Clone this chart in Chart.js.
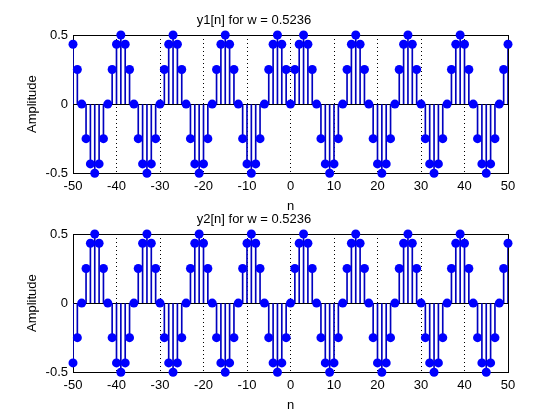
<!DOCTYPE html>
<html><head><meta charset="utf-8">
<script src="https://cdn.jsdelivr.net/npm/chart.js@4"></script>
<style>
html,body{margin:0;padding:0;background:#fff;width:560px;height:420px;overflow:hidden}
canvas{position:absolute;left:0}
#a{top:0}#b{top:199px}
</style>
</head><body>
<canvas id="a" width="560" height="214"></canvas>
<canvas id="b" width="560" height="214"></canvas>
<script>
const n = [-50,-49,-48,-47,-46,-45,-44,-43,-42,-41,-40,-39,-38,-37,-36,-35,-34,-33,-32,-31,
-30,-29,-28,-27,-26,-25,-24,-23,-22,-21,-20,-19,-18,-17,-16,-15,-14,-13,-12,-11,
-10,-9,-8,-7,-6,-5,-4,-3,-2,-1,0,1,2,3,4,5,6,7,8,9,
10,11,12,13,14,15,16,17,18,19,20,21,22,23,24,25,26,27,28,29,
30,31,32,33,34,35,36,37,38,39,40,41,42,43,44,45,46,47,48,49,50];

const y1 = [0.433,0.25,0,-0.25,-0.433,-0.5,-0.433,-0.25,0,0.25,
0.433,0.5,0.433,0.25,0,-0.25,-0.433,-0.5,-0.433,-0.25,
0,0.25,0.433,0.5,0.433,0.25,0,-0.25,-0.433,-0.5,
-0.433,-0.25,0,0.25,0.433,0.5,0.433,0.25,0,-0.25,
-0.433,-0.5,-0.433,-0.25,0,0.25,0.433,0.5,0.433,0.25,
0,0.25,0.433,0.5,0.433,0.25,0,-0.25,-0.433,-0.5,
-0.433,-0.25,0,0.25,0.433,0.5,0.433,0.25,0,-0.25,
-0.433,-0.5,-0.433,-0.25,0,0.25,0.433,0.5,0.433,0.25,
0,-0.25,-0.433,-0.5,-0.433,-0.25,0,0.25,0.433,0.5,
0.433,0.25,0,-0.25,-0.433,-0.5,-0.433,-0.25,0,0.25,
0.433];

const y2 = [-0.433,-0.25,0,0.25,0.433,0.5,0.433,0.25,0,-0.25,
-0.433,-0.5,-0.433,-0.25,0,0.25,0.433,0.5,0.433,0.25,
0,-0.25,-0.433,-0.5,-0.433,-0.25,0,0.25,0.433,0.5,
0.433,0.25,0,-0.25,-0.433,-0.5,-0.433,-0.25,0,0.25,
0.433,0.5,0.433,0.25,0,-0.25,-0.433,-0.5,-0.433,-0.25,
0,0.25,0.433,0.5,0.433,0.25,0,-0.25,-0.433,-0.5,
-0.433,-0.25,0,0.25,0.433,0.5,0.433,0.25,0,-0.25,
-0.433,-0.5,-0.433,-0.25,0,0.25,0.433,0.5,0.433,0.25,
0,-0.25,-0.433,-0.5,-0.433,-0.25,0,0.25,0.433,0.5,
0.433,0.25,0,-0.25,-0.433,-0.5,-0.433,-0.25,0,0.25,
0.433];

const xTicks = [-50,-40,-30,-20,-10,0,10,20,30,40,50];
const yTicks = [-0.5,0,0.5];
const titles = ['y1[n] for w = 0.5236','y2[n] for w = 0.5236'];
const xLabel = 'n';
const yLabel = 'Amplitude';

Chart.defaults.font.family = "'Liberation Sans', Arial, Helvetica, sans-serif";
Chart.defaults.font.size = 13;
Chart.defaults.color = '#000';

const boxPlugin = {
  id: 'box',
  beforeDatasetsDraw(chart) {
    const {ctx, chartArea: a} = chart;
    ctx.save();
    ctx.strokeStyle = '#000';
    ctx.lineWidth = 1;
    const l = Math.round(a.left) + 0.5, t = Math.round(a.top) + 0.5;
    const r = Math.round(a.right) + 0.5, b = Math.round(a.bottom) + 0.5;
    ctx.strokeRect(l, t, r - l, b - t);
    ctx.restore();
  }
};

function makeChart(id, title, ys) {
  const pts = n.map((x, i) => ({x: x, y: ys[i]}));
  return new Chart(document.getElementById(id), {
    type: 'bar',
    data: {
      datasets: [
        {type: 'scatter', data: pts, pointRadius: 4.5, pointHoverRadius: 4.5,
         backgroundColor: '#0000ff', borderColor: '#0000ff', borderWidth: 0, clip: false, order: 0},
        {type: 'bar', data: pts, backgroundColor: '#0000c0', borderWidth: 0,
         barThickness: 1, order: 1}
      ]
    },
    options: {
      responsive: false,
      animation: false,
      events: [],
      layout: {padding: {left: 0, right: 52, top: 0, bottom: 0}},
      plugins: {
        legend: {display: false},
        tooltip: {enabled: false},
        title: {display: true, text: title, color: '#000',
                font: {size: 13, weight: 'normal'}, padding: {top: 13, bottom: 6.4}}
      },
      scales: {
        x: {
          type: 'linear', min: -50, max: 50, offset: false,
          afterBuildTicks: s => { s.ticks = xTicks.map(v => ({value: v})); },
          afterFit: s => { s.height = 40.8; },
          grid: {offset: false, drawTicks: false, lineWidth: 1,
                 color: c => (c.tick && Math.abs(c.tick.value) === 50) ? 'rgba(0,0,0,0)' : '#000'},
          border: {display: false, dash: [1, 3]},
          ticks: {padding: 5, maxRotation: 0, autoSkip: false, color: '#000',
                  callback: v => String(v)},
          title: {display: true, text: xLabel, color: '#000', padding: {top: 0, bottom: 0}}
        },
        y: {
          min: -0.5, max: 0.5,
          afterBuildTicks: s => { s.ticks = yTicks.map(v => ({value: v})); },
          afterFit: s => { s.width = 73; },
          grid: {drawTicks: false, lineWidth: 1,
                 color: c => (c.tick && c.tick.value === 0) ? '#000' : 'rgba(0,0,0,0)'},
          border: {display: false},
          ticks: {padding: 5, color: '#000', callback: v => String(v)},
          title: {display: true, text: yLabel, color: '#000', padding: {top: 25, bottom: 0}}
        }
      }
    },
    plugins: [boxPlugin]
  });
}

makeChart('a', titles[0], y1);
makeChart('b', titles[1], y2);
</script>
</body></html>
